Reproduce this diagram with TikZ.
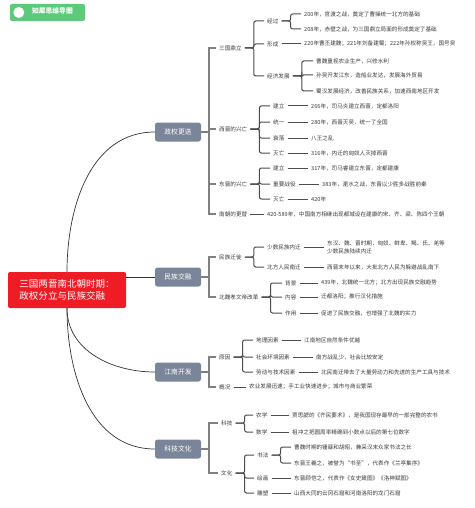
\documentclass[tikz,border=0pt]{standalone}
\usepackage{fontspec}
\setmainfont{Noto Sans CJK SC}
\definecolor{rootred}{HTML}{EE1D25}
\definecolor{topicgray}{HTML}{7B8599}
\definecolor{logogreen}{HTML}{5CC97B}
\definecolor{inkgray}{HTML}{3A3A3A}
\tikzset{
  root/.style={fill=rootred, text=white, rounded corners=2pt, minimum width=118pt,
    minimum height=36pt, align=left, font=\fontsize{9.5}{12.5}\selectfont},
  topic/.style={fill=topicgray, text=white, rounded corners=2.5pt, minimum width=46pt,
    minimum height=19pt, inner sep=0pt, font=\fontsize{6.8}{8}\selectfont},
  sub/.style={anchor=west, inner xsep=3pt, inner ysep=1pt, text=inkgray,
    align=left, font=\fontsize{5.6}{8}\selectfont},
  branch/.style={draw=black!80, line width=0.7pt},
  trunk/.style={draw=black!50, line width=1.8pt},
  twig/.style={draw=black!70, line width=1pt, rounded corners=2pt},
}
\begin{document}
\begin{tikzpicture}[x=1pt, y=-1pt]
  \useasboundingbox (0,0) rectangle (474,508);

  % logo
  \node[fill=logogreen, rounded corners=2pt, minimum width=75pt, minimum height=17pt] (lg) at (47.5,12.5) {};
  \fill[white] ([xshift=9pt]lg.west) circle (5.5pt);
  \node[anchor=west, text=white, inner sep=0pt, font=\fontsize{6.8}{8}\bfseries\selectfont] (lgt) at ([xshift=22pt,yshift=2pt]lg.west) {知犀思维导图};

  % root and main topics
  \node[root] (rt) at (67,290) {三国两晋南北朝时期：\\政权分立与民族交融};
  \node[topic] (zq) at (178,132) {政权更迭};
  \node[topic] (mz) at (178,277) {民族交融};
  \node[topic] (jn) at (178,372) {江南开发};
  \node[topic] (kj) at (178,449) {科技文化};

  \draw[branch] (rt.north) to[out=90,in=180] (zq.west);
  \draw[branch] (rt.east |- mz.west) -- (mz.west);
  \draw[branch] (rt.south) to[out=-90,in=180] (jn.west);
  \draw[branch] (rt.south) to[out=-90,in=180] (kj.west);

  % 政权更迭
  \node[sub] (sg) at (216,48) {三国鼎立};
  \node[sub] (xj) at (216,129) {西晋的兴亡};
  \node[sub] (dj) at (216,184) {东晋的兴亡};
  \node[sub] (nc) at (216,214) {南朝的更替};
  \foreach \c in {sg,xj,dj,nc} \draw[trunk] (zq.east) -- ++(8,0) |- (\c.west);

  \node[sub] (jg) at (264,21) {经过};
  \node[sub] (xc) at (264,44) {形成};
  \node[sub] (jj) at (264,76) {经济发展};
  \foreach \c in {jg,xc,jj} \draw[twig] (sg.east) -- ++(9,0) |- (\c.west);

  \node[sub] (jg1) at (301,14) {200年，官渡之战，奠定了曹操统一北方的基础};
  \node[sub] (jg2) at (301,29) {208年，赤壁之战，为三国鼎立局面的形成奠定了基础};
  \foreach \c in {jg1,jg2} \draw[twig] (jg.east) -- ++(9,0) |- (\c.west);
  \node[sub] (xc1) at (301,44) {220年曹丕建魏；221年刘备建蜀；222年孙权称吴王，国号吴};
  \draw[twig] (xc.east) -- (xc1.west);
  \node[sub] (jj1) at (313,61) {曹魏重视农业生产，兴修水利};
  \node[sub] (jj2) at (313,75) {孙吴开发江东，造船业发达，发展海外贸易};
  \node[sub] (jj3) at (313,91) {蜀汉发展经济，改善民族关系，加速西南地区开发};
  \foreach \c in {jj1,jj2,jj3} \draw[twig] (jj.east) -- ++(9,0) |- (\c.west);

  \node[sub] (xj1) at (270,106) {建立};
  \node[sub] (xj2) at (270,122) {统一};
  \node[sub] (xj3) at (270,138) {衰落};
  \node[sub] (xj4) at (270,153) {灭亡};
  \foreach \c in {xj1,xj2,xj3,xj4} \draw[twig] (xj.east) -- ++(9,0) |- (\c.west);
  \node[sub] (xj1a) at (308,106) {266年，司马炎建立西晋，定都洛阳};
  \node[sub] (xj2a) at (308,122) {280年，西晋灭吴，统一了全国};
  \node[sub] (xj3a) at (308,138) {八王之乱};
  \node[sub] (xj4a) at (308,153) {316年，内迁的匈奴人灭掉西晋};
  \foreach \c in {1,2,3,4} \draw[twig] (xj\c.east) -- (xj\c a.west);

  \node[sub] (dj1) at (270,168) {建立};
  \node[sub] (dj2) at (270,184) {重要战役};
  \node[sub] (dj3) at (270,199) {灭亡};
  \foreach \c in {dj1,dj2,dj3} \draw[twig] (dj.east) -- ++(9,0) |- (\c.west);
  \node[sub] (dj1a) at (308,168) {317年，司马睿建立东晋，定都建康};
  \node[sub] (dj2a) at (319,184) {383年，淝水之战，东晋以少胜多战胜前秦};
  \node[sub] (dj3a) at (308,199) {420年};
  \foreach \c in {1,2,3} \draw[twig] (dj\c.east) -- (dj\c a.west);

  \node[sub] (nc1) at (264,214) {420-589年，中国南方相继出现都城设在建康的宋、齐、梁、陈四个王朝};
  \draw[twig] (nc.east) -- (nc1.west);

  % 民族交融
  \node[sub] (mq) at (216,257) {民族迁徙};
  \node[sub] (xw) at (216,297) {北魏孝文帝改革};
  \foreach \c in {mq,xw} \draw[trunk] (mz.east) -- ++(8,0) |- (\c.west);

  \node[sub] (mq1) at (264,247) {少数民族内迁};
  \node[sub] (mq2) at (264,267) {北方人民南迁};
  \foreach \c in {mq1,mq2} \draw[twig] (mq.east) -- ++(9,0) |- (\c.west);
  \node[sub] (mq1a) at (324,247) {东汉、魏、晋时期，匈奴、鲜卑、羯、氐、羌等\\少数民族陆续内迁};
  \node[sub] (mq2a) at (324,267) {西晋末年以来，大批北方人民为躲避战乱南下};
  \foreach \c in {1,2} \draw[twig] (mq\c.east) -- (mq\c a.west);

  \node[sub] (xw1) at (282,283) {背景};
  \node[sub] (xw2) at (282,297) {内容};
  \node[sub] (xw3) at (282,313) {作用};
  \foreach \c in {xw1,xw2,xw3} \draw[twig] (xw.east) -- ++(9,0) |- (\c.west);
  \node[sub] (xw1a) at (318,283) {439年，北魏统一北方；北方出现民族交融趋势};
  \node[sub] (xw2a) at (318,297) {迁都洛阳；推行汉化措施};
  \node[sub] (xw3a) at (318,313) {促进了民族交融，也增强了北魏的实力};
  \foreach \c in {1,2,3} \draw[twig] (xw\c.east) -- (xw\c a.west);

  % 江南开发
  \node[sub] (yy) at (216,357) {原因};
  \node[sub] (gk) at (216,387) {概况};
  \foreach \c in {yy,gk} \draw[trunk] (jn.east) -- ++(8,0) |- (\c.west);

  \node[sub] (yy1) at (253,340) {地理因素};
  \node[sub] (yy2) at (253,357) {社会环境因素};
  \node[sub] (yy3) at (253,372) {劳动与技术因素};
  \foreach \c in {yy1,yy2,yy3} \draw[twig] (yy.east) -- ++(9,0) |- (\c.west);
  \node[sub] (yy1a) at (301,340) {江南地区自然条件优越};
  \node[sub] (yy2a) at (313,357) {南方战乱少，社会比较安定};
  \node[sub] (yy3a) at (318,372) {北民南迁带去了大量劳动力和先进的生产工具与技术};
  \foreach \c in {1,2,3} \draw[twig] (yy\c.east) -- (yy\c a.west);
  \node[sub] (gk1) at (246,387) {农业发展迅速；手工业快速进步；城市与商业繁荣};
  \draw[twig] (gk.east) -- (gk1.west);

  % 科技文化
  \node[sub] (kx) at (218,423) {科技};
  \node[sub] (wh) at (218,473) {文化};
  \foreach \c in {kx,wh} \draw[trunk] (kj.east) -- ++(8,0) |- (\c.west);

  \node[sub] (kx1) at (253,415) {农学};
  \node[sub] (kx2) at (253,432) {数学};
  \foreach \c in {kx1,kx2} \draw[twig] (kx.east) -- ++(9,0) |- (\c.west);
  \node[sub] (kx1a) at (289,415) {贾思勰的《齐民要术》，是我国现存最早的一部完整的农书};
  \node[sub] (kx2a) at (289,432) {祖冲之把圆周率精确到小数点以后的第七位数字};
  \foreach \c in {1,2} \draw[twig] (kx\c.east) -- (kx\c a.west);

  \node[sub] (wh1) at (254,455) {书法};
  \node[sub] (wh2) at (254,478) {绘画};
  \node[sub] (wh3) at (254,493) {雕塑};
  \foreach \c in {wh1,wh2,wh3} \draw[twig] (wh.east) -- ++(9,0) |- (\c.west);
  \node[sub] (sf1) at (291,447) {曹魏时期的锺繇和胡昭，兼采汉末众家书法之长};
  \node[sub] (sf2) at (291,463) {东晋王羲之，被誉为“书圣”，代表作《兰亭集序》};
  \foreach \c in {sf1,sf2} \draw[twig] (wh1.east) -- ++(9,0) |- (\c.west);
  \node[sub] (wh2a) at (291,478) {东晋顾恺之，代表作《女史箴图》《洛神赋图》};
  \node[sub] (wh3a) at (291,493) {山西大同的云冈石窟和河南洛阳的龙门石窟};
  \foreach \c in {2,3} \draw[twig] (wh\c.east) -- (wh\c a.west);
\end{tikzpicture}
\end{document}
